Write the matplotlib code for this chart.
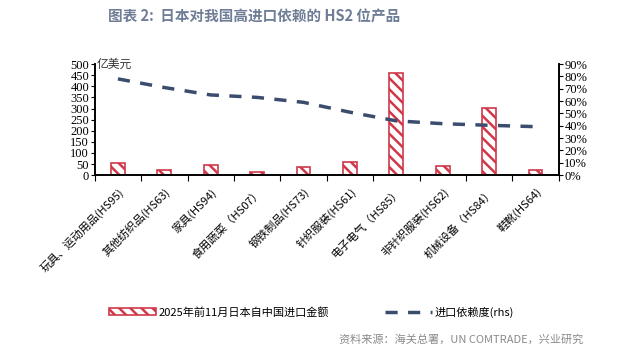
import matplotlib
matplotlib.use("Agg")
import matplotlib.pyplot as plt
import numpy as np

plt.rcParams['font.family'] = ['Noto Sans CJK SC', 'DejaVu Sans']
plt.rcParams['hatch.linewidth'] = 1.8

# data
categories = ['玩具、运动用品(HS95)', '其他纺织品(HS63)', '家具(HS94)', '食用蔬菜（HS07）',
              '钢铁制品(HS73)', '针织服装(HS61)', '电子电气（HS85）', '非针织服装(HS62)',
              '机械设备（HS84）', '鞋靴(HS64)']
import_value = [54, 21, 46, 12, 36, 60, 461, 39, 304, 21]
dependency = [0.78, 0.71, 0.65, 0.63, 0.59, 0.51, 0.44, 0.417, 0.404, 0.393]

red = '#d0384a'
navy = '#3b4d6e'
serif = 'Liberation Serif'

fig = plt.figure(figsize=(6.4, 3.56), dpi=100)
ax = fig.add_axes([0.148, 0.508, 0.725, 0.312])
ax2 = ax.twinx()

x = np.arange(len(categories))
ax.bar(x, import_value, width=0.3, color='white', edgecolor=red, hatch='\\\\\\',
       linewidth=1.2, label='2025年前11月日本自中国进口金额', zorder=2)
ax2.plot(x, dependency, color=navy, linestyle=(0, (3.5, 3)), linewidth=2.5,
         label='进口依赖度(rhs)', zorder=3)

ax.set_xlim(-0.5, len(categories) - 0.5)
ax.set_ylim(0, 500)
ax.set_yticks(np.arange(0, 501, 50))
ax2.set_ylim(0, 0.9)
ax2.set_yticks(np.arange(0, 0.91, 0.1))
ax2.set_yticklabels([f'{int(round(v * 100))}%' for v in np.arange(0, 0.91, 0.1)])

ax.set_xticks(np.arange(-0.5, len(categories), 1.0))
ax.set_xticklabels([])
ax.set_xticks(x, minor=True)
ax.set_xticklabels(categories, minor=True, rotation=45, ha='right', va='top',
                   rotation_mode='anchor', fontsize=8)
ax.tick_params(axis='x', which='minor', length=0, pad=8)
ax.tick_params(axis='x', which='major', length=4, direction='out')

for a in (ax, ax2):
    a.spines['top'].set_visible(False)
    for s in a.spines.values():
        s.set_linewidth(1.2)
for lab in ax.get_yticklabels() + ax2.get_yticklabels():
    lab.set_fontfamily(serif)
    lab.set_fontsize(9)
ax.tick_params(axis='y', length=3, pad=1)
ax2.tick_params(axis='y', length=3, pad=1)

ax.text(0.005, 1.0, '亿美元', transform=ax.transAxes, fontsize=8.5, color='#333333',
        ha='left', va='center')

h1, l1 = ax.get_legend_handles_labels()
h2, l2 = ax2.get_legend_handles_labels()
fig.legend(h1 + h2, l1 + l2, loc='center', bbox_to_anchor=(0.487, 0.123), ncol=2,
           frameon=False, fontsize=8, columnspacing=5, handlelength=4.2,
           handleheight=0.6, handletextpad=0.3)

fig.text(0.397, 0.955, '图表 2:  日本对我国高进口依赖的 HS2 位产品', ha='center', va='center',
         fontsize=10.5, fontweight='bold', color='#6f7d96')
fig.text(0.911, 0.045, '资料来源：海关总署，UN COMTRADE，兴业研究', ha='right', va='center',
         fontsize=8, color='#8a8a8a')

fig.savefig('out.png', dpi=100)
